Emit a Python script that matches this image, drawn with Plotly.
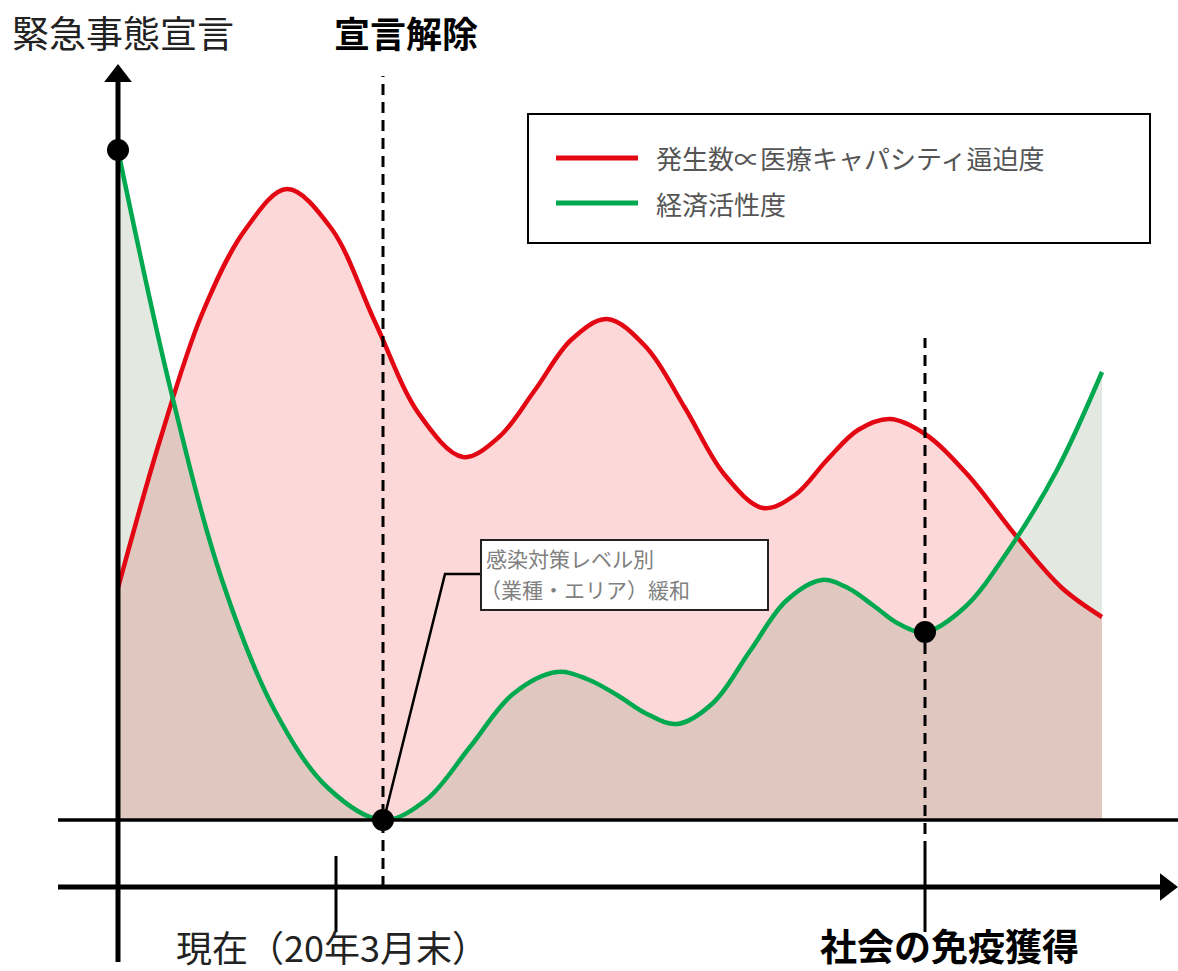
import plotly.graph_objects as go

# ---- data (time units along x, level units along y; 0 = baseline) ----
red_x = [0, 42, 84, 127, 169, 213, 257, 301, 345, 381, 417, 453, 489,
         528, 567, 606, 645, 677, 709, 740, 772, 807, 849, 899, 944, 984]
red_y = [232, 380, 506, 590, 631, 592, 498, 406, 363, 383, 430, 480, 501,
         473, 412, 346, 312, 325, 360, 390, 401, 386, 346, 283, 232, 203]

green_x = [0, 52, 104, 157, 210, 265, 308, 352, 395, 439, 469, 499, 529,
           559, 595, 632, 668, 704, 730, 756, 781, 807, 847, 892, 939, 984]
green_y = [670, 433, 240, 109, 32, 0, 20, 73, 126, 148, 141, 125, 106,
           96, 117, 169, 219, 240, 232, 214, 196, 188, 213, 272, 350, 448]

t_now = 218        # 現在（20年3月末）
t_lift = 265       # 宣言解除
t_immunity = 807   # 社会の免疫獲得
key_idx = [0, 5, 21]   # indices on green curve marked with dots

legend_labels = ["発生数∝医療キャパシティ逼迫度", "経済活性度"]
top_labels = ["緊急事態宣言", "宣言解除"]
bottom_labels = ["現在（20年3月末）", "社会の免疫獲得"]
callout_lines = ["感染対策レベル別", "（業種・エリア）緩和"]

RED = "#E30613"
GREEN = "#00A84F"
FONT = "Noto Sans CJK JP"
SMOOTH = 1.0

W, H = 1178, 971
X0, Y0 = 118, 820  # pixel position of origin


def X(px):
    return px - X0


def Y(py):
    return Y0 - py


fig = go.Figure()

# fills
fig.add_trace(go.Scatter(x=red_x, y=red_y, mode="lines",
                         line=dict(width=0, shape="spline", smoothing=SMOOTH, color=RED, simplify=False),
                         fill="tozeroy", fillcolor="rgba(245,125,125,0.30)", hoverinfo="skip"))
fig.add_trace(go.Scatter(x=green_x, y=green_y, mode="lines",
                         line=dict(width=0, shape="spline", smoothing=SMOOTH, color=GREEN, simplify=False),
                         fill="tozeroy", fillcolor="rgba(115,140,100,0.20)", hoverinfo="skip"))
# lines
fig.add_trace(go.Scatter(x=red_x, y=red_y, mode="lines", name=legend_labels[0],
                         line=dict(width=4.5, shape="spline", smoothing=SMOOTH, color=RED, simplify=False)))
fig.add_trace(go.Scatter(x=green_x, y=green_y, mode="lines", name=legend_labels[1],
                         line=dict(width=4.5, shape="spline", smoothing=SMOOTH, color=GREEN, simplify=False)))

shapes = []
# baseline
shapes.append(dict(type="line", x0=X(58), x1=X(1178), y0=0, y1=0, line=dict(color="black", width=3.5)))
# time axis
shapes.append(dict(type="line", x0=X(58), x1=X(1165), y0=Y(887), y1=Y(887), line=dict(color="black", width=5)))
# vertical axis
shapes.append(dict(type="line", x0=0, x1=0, y0=Y(962), y1=Y(80), line=dict(color="black", width=5)))
# dashed lines
shapes.append(dict(type="line", x0=t_lift, x1=t_lift, y0=Y(887), y1=Y(76),
                   line=dict(color="black", width=3, dash="11px,7px")))
shapes.append(dict(type="line", x0=t_immunity, x1=t_immunity, y0=Y(852), y1=Y(338),
                   line=dict(color="black", width=3, dash="11px,7px")))
# tick marks
shapes.append(dict(type="line", x0=t_now, x1=t_now, y0=Y(856), y1=Y(932), line=dict(color="black", width=3)))
shapes.append(dict(type="line", x0=t_immunity, x1=t_immunity, y0=Y(852), y1=Y(932), line=dict(color="black", width=3)))
# callout leader + box
shapes.append(dict(type="path",
                   path=f"M {t_lift+2},{Y(815)} L {X(445)},{Y(574)} L {X(481)},{Y(574)}",
                   line=dict(color="black", width=2.5)))
shapes.append(dict(type="rect", x0=X(481), x1=X(768), y0=Y(540), y1=Y(610),
                   fillcolor="white", line=dict(color="#222", width=2)))
# legend box
shapes.append(dict(type="rect", x0=X(528), x1=X(1150), y0=Y(114), y1=Y(243),
                   fillcolor="white", line=dict(color="black", width=2)))
shapes.append(dict(type="line", x0=X(556), x1=X(638), y0=Y(158), y1=Y(158), line=dict(color=RED, width=5)))
shapes.append(dict(type="line", x0=X(556), x1=X(638), y0=Y(203), y1=Y(203), line=dict(color=GREEN, width=5)))

# arrowheads
fig.add_trace(go.Scatter(x=[0], y=[Y(76)], mode="markers",
                         marker=dict(symbol="triangle-up", size=24, color="black"), hoverinfo="skip"))
fig.add_trace(go.Scatter(x=[X(1166)], y=[Y(887)], mode="markers",
                         marker=dict(symbol="triangle-right", size=24, color="black"), hoverinfo="skip"))
# key dots
fig.add_trace(go.Scatter(x=[green_x[i] for i in key_idx], y=[green_y[i] for i in key_idx], mode="markers",
                         marker=dict(size=22, color="black"), hoverinfo="skip"))

ann = []
ann.append(dict(x=X(10), y=Y(32), text=top_labels[0], showarrow=False, xanchor="left", yanchor="middle",
                font=dict(family=FONT, size=37, color="#222")))
ann.append(dict(x=X(332), y=Y(32), text="<b>" + top_labels[1] + "</b>", showarrow=False, xanchor="left",
                yanchor="middle", font=dict(family=FONT, size=36, color="black")))
ann.append(dict(x=X(174), y=Y(946), text=bottom_labels[0], showarrow=False, xanchor="left", yanchor="middle",
                font=dict(family=FONT, size=36, color="#222")))
ann.append(dict(x=X(818), y=Y(945), text="<b>" + bottom_labels[1] + "</b>", showarrow=False, xanchor="left",
                yanchor="middle", font=dict(family=FONT, size=37, color="black")))
ann.append(dict(x=X(654), y=Y(157), text=legend_labels[0], showarrow=False, xanchor="left", yanchor="middle",
                font=dict(family=FONT, size=26, color="#555")))
ann.append(dict(x=X(654), y=Y(203), text=legend_labels[1], showarrow=False, xanchor="left", yanchor="middle",
                font=dict(family=FONT, size=26, color="#555")))
ann.append(dict(x=X(484), y=Y(558), text=callout_lines[0], showarrow=False, xanchor="left", yanchor="middle",
                font=dict(family=FONT, size=21, color="#808080")))
ann.append(dict(x=X(478), y=Y(589), text=callout_lines[1], showarrow=False, xanchor="left", yanchor="middle",
                font=dict(family=FONT, size=21, color="#808080")))

fig.update_layout(
    width=W, height=H,
    margin=dict(l=0, r=0, t=0, b=0),
    paper_bgcolor="white", plot_bgcolor="white",
    showlegend=False,
    xaxis=dict(range=[X(0), X(W)], visible=False, fixedrange=True),
    yaxis=dict(range=[Y(H), Y(0)], visible=False, fixedrange=True),
    shapes=shapes,
    annotations=ann,
)

fig.write_html("out.html")
